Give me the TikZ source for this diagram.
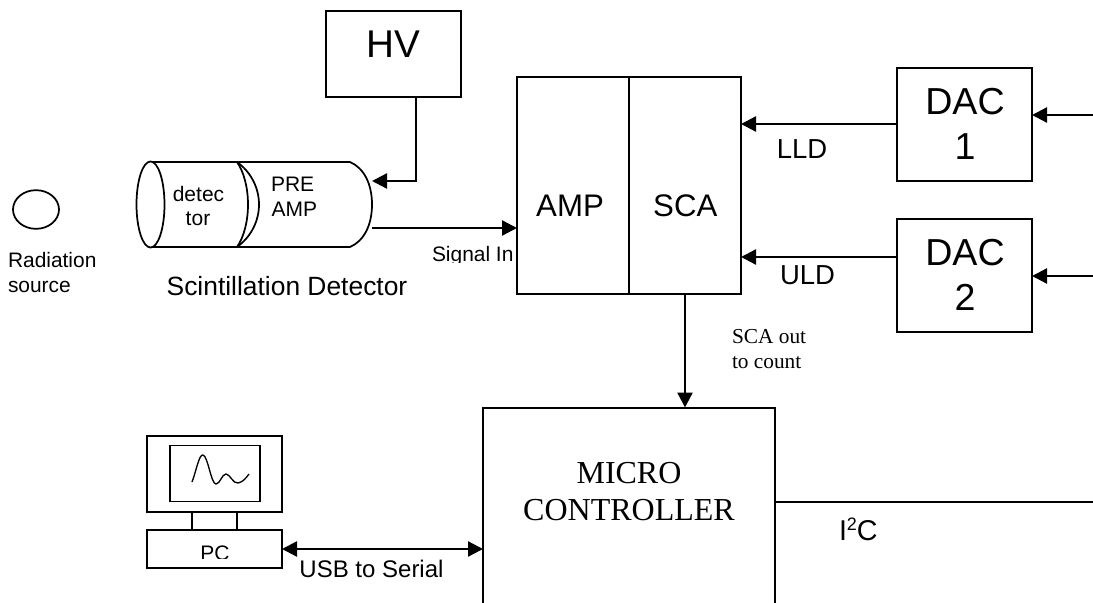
\documentclass[tikz,border=0pt]{standalone}
\usepackage{fontspec}
\setmainfont{Liberation Sans}
\newfontfamily\serifx{Liberation Serif}
\usetikzlibrary{arrows.meta,shapes.geometric}
\newcommand{\fs}[1]{\fontsize{#1}{#1}\selectfont}
\newcommand{\supt}[1]{\raisebox{0.36em}{\fontsize{13.5}{13.5}\selectfont #1}}
\tikzset{
 x=0.75pt,y=-0.75pt,
 line/.style={draw=black,line width=1.5pt},
 thinline/.style={draw=black,line width=1.3pt},
 arrowline/.style={draw=black,line width=1.75pt,-{Triangle[length=11.25pt,width=11.25pt]}},
 twoarrow/.style={draw=black,line width=1.75pt,{Triangle[length=11.25pt,width=11.25pt]}-{Triangle[length=11.25pt,width=11.25pt]}},
 boxn/.style={line,fill=white,inner sep=0pt,outer sep=0pt},
 thinbox/.style={thinline,fill=white,inner sep=0pt,outer sep=0pt},
 lab/.style={inner sep=0pt,outer sep=0pt,align=center},
 lleft/.style={lab,align=left,anchor=base west},
}
\begin{document}
\begin{tikzpicture}
\useasboundingbox (0,0) rectangle (1093,603);
% boxes
\node[boxn,minimum width=101.25pt,minimum height=64.5pt] (hv) at (393.5,54) {};
\node[boxn,minimum width=84pt,minimum height=162.75pt] (amp) at (573,185.5) {};
\node[boxn,minimum width=84pt,minimum height=162.75pt] (sca) at (685,185.5) {};
\node[boxn,minimum width=101.25pt,minimum height=85pt] (dac1) at (964.5,124.25) {};
\node[boxn,minimum width=101.25pt,minimum height=85pt] (dac2) at (964.5,275.5) {};
% cylinder
\draw[thinline,fill=white] (150,162) -- (350,162) .. controls (364,168) and (372,184) .. (372,204.5) .. controls (372,225) and (364,241) .. (350,247) -- (150,247);
\draw[thinline] (237,162) .. controls (251,172) and (259,188) .. (259,204.5) .. controls (259,221) and (251,237) .. (237,247);
\draw[thinline] (237,162) .. controls (244,172) and (248,188) .. (248,204.5) .. controls (248,221) and (244,237) .. (237,247);
\node[thinbox,ellipse,minimum width=21pt,minimum height=64.5pt] (cap) at (150.5,204.5) {};
\coordinate (cylIn) at (372,181); \coordinate (cylOut) at (372,228);
% source
\node[thinbox,ellipse,minimum width=34.5pt,minimum height=29pt] (src) at (36,209.5) {};
% micro
\coordinate (mcBL) at (483,603); \coordinate (mcTL) at (483,407.5); \coordinate (mcTR) at (775,407.5); \coordinate (mcBR) at (775,603);
\draw[line] (mcBL) -- (mcTL) -- (mcTR) -- (mcBR);
% PC
\node[thinbox,minimum width=101.25pt,minimum height=57pt] (mon) at (214.5,474) {};
\node[thinbox,minimum width=67.5pt,minimum height=42pt] (scr) at (215,473.5) {};
\node[thinbox,minimum width=33.75pt,minimum height=13.5pt] (neck) at (214.5,521) {};
\node[thinbox,minimum width=101.25pt,minimum height=28.5pt] (pc) at (214.5,549) {};
\draw[line width=1pt] (192,482) .. controls (196,472) and (199,454) .. (203,455) .. controls (208,456) and (211,484) .. (216,484) .. controls (220,484) and (222,474) .. (226,474) .. controls (230,474) and (233,484) .. (238,483) .. controls (243,482) and (246,478) .. (249,474);
% connectors
\coordinate (hvT) at (416,181);
\coordinate (scaB) at (685,294);
\coordinate (mcT) at (685,407.5);
\coordinate (mcL) at (483,549);
\draw[arrowline] (hv.south -| hvT) -- (hvT) -- (cylIn);
\draw[arrowline] (cylOut) -- (cylOut -| amp.west);
\coordinate (d1) at (0,124); \coordinate (d2) at (0,257);
\draw[arrowline] (dac1.west |- d1) -- (sca.east |- d1);
\draw[arrowline] (dac2.west |- d2) -- (sca.east |- d2);
\coordinate (r1) at (1093,115); \coordinate (r2) at (1093,276); \coordinate (i2cE) at (1093,502); \coordinate (i2cW) at (775,502);
\draw[arrowline] (r1) -- (r1 -| dac1.east);
\draw[arrowline] (r2) -- (r2 -| dac2.east);
\draw[arrowline] (scaB) -- (mcT);
\draw[twoarrow] (pc.east) -- (mcL);
\draw[line] (i2cW) -- (i2cE);
% text
\node[lab,anchor=base] (thv) at (393.5,57) {\fs{29}HV};
\node[lab,anchor=base] (tamp) at (570,216) {\fs{23.4}AMP};
\node[lab,anchor=base] (tsca) at (685.3,216) {\fs{23.4}SCA};
\node[lab,anchor=base] (td1a) at (965,114) {\fs{28.2}DAC};
\node[lab,anchor=base] (td1b) at (965,159) {\fs{28.2}1};
\node[lab,anchor=base] (td2a) at (965,265) {\fs{28.2}DAC};
\node[lab,anchor=base] (td2b) at (965,310) {\fs{28.2}2};
\node[lab,anchor=base] (tlld) at (802,158) {\fs{20.6}LLD};
\node[lab,anchor=base] (tuld) at (807.5,284) {\fs{20.6}ULD};
\node[lab,anchor=base] (tdeta) at (198.5,201) {\fs{15.75}detec};
\node[lab,anchor=base] (tdetb) at (198,225) {\fs{15.75}tor};
\node[lab,anchor=base west] (tprea) at (271,191.7) {\fs{15.75}PRE};
\node[lab,anchor=base west] (tpreb) at (271.5,216.7) {\fs{15.75}AMP};
\node[lleft] (tra) at (8,267) {\fs{15.7}Radiation};
\node[lleft] (trb) at (8,292) {\fs{15.7}source};
\node[lab,anchor=base] (tsd) at (287,295) {\fs{19.8}Scintillation Detector};
\begin{scope}
\clip (420,240) rectangle (515,262);
\node[lab,anchor=base west] (tsig) at (432,261.5) {\fs{15.7}Signal In};
\end{scope}
\begin{scope}
\clip (150,535) rectangle (280,558);
\node[lab,anchor=base] (tpc) at (215,560.7) {\fs{15.75}PC};
\end{scope}
\node[lleft] (tsa) at (732,343.5) {\serifx\fs{16}SCA out};
\node[lleft] (tsb) at (732,368.5) {\serifx\fs{16}to count};
\node[lab,anchor=base] (tma) at (629,483) {\serifx\fs{24}MICRO};
\node[lab,anchor=base] (tmb) at (629,520.7) {\serifx\fs{24}CONTROLLER};
\node[lab,anchor=base] (tusb) at (371.5,577) {\fs{18}USB to Serial};
\node[lab,anchor=base west] (ti2c) at (839,540.7) {\fs{21.5}I\supt{2}C};
\end{tikzpicture}
\end{document}
